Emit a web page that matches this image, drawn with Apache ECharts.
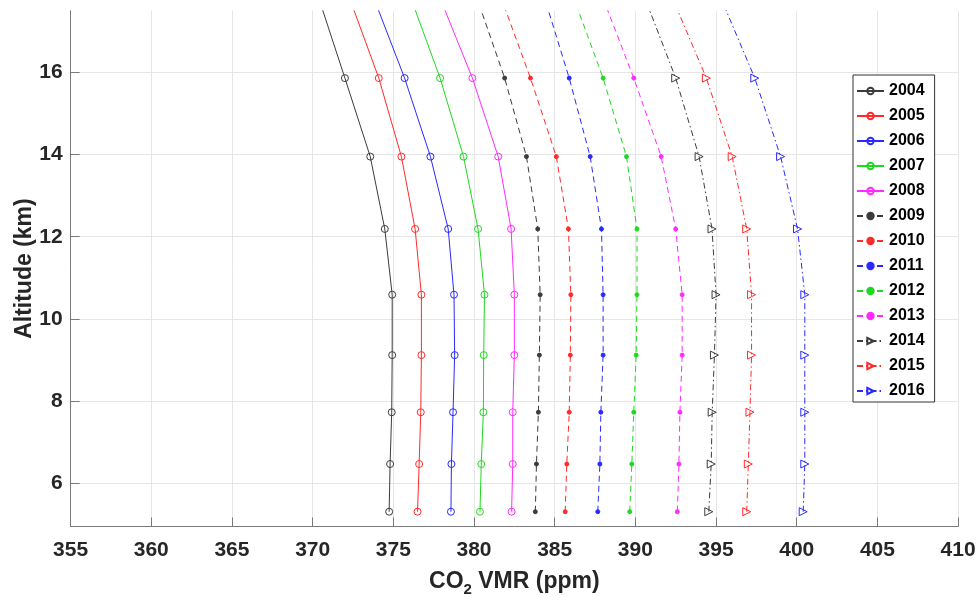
<!DOCTYPE html>
<html>
<head>
<meta charset="utf-8">
<script src="https://cdn.jsdelivr.net/npm/echarts@6/dist/echarts.min.js"></script>
<style>
  html, body { margin: 0; padding: 0; background: #fff; }
  #chart { width: 980px; height: 596px; }
</style>
</head>
<body>
<div id="chart"></div>
<script>
// Retrieval altitude levels (km); the top level lies above the plotted range and is clipped.
const altitudes = [5.31, 6.47, 7.73, 9.12, 10.59, 12.19, 13.95, 15.86, 17.9];

// Annual mean CO2 VMR profiles (ppm), bottom to top.
const years = ['2004', '2005', '2006', '2007', '2008', '2009', '2010',
               '2011', '2012', '2013', '2014', '2015', '2016'];
const co2_2004 = [374.74, 374.80, 374.90, 374.93, 374.93, 374.47, 373.57, 372.00, 370.30];
const co2_2005 = [376.50, 376.60, 376.70, 376.74, 376.74, 376.35, 375.50, 374.10, 372.20];
const co2_2006 = [378.57, 378.60, 378.70, 378.80, 378.76, 378.40, 377.30, 375.70, 373.70];
const co2_2007 = [380.37, 380.45, 380.58, 380.60, 380.65, 380.25, 379.35, 377.90, 376.00];
const co2_2008 = [382.33, 382.40, 382.40, 382.50, 382.50, 382.30, 381.50, 379.90, 377.80];
const co2_2009 = [383.80, 383.87, 383.99, 384.05, 384.10, 383.95, 383.25, 381.90, 380.10];
const co2_2010 = [385.65, 385.75, 385.90, 385.97, 386.00, 385.85, 385.10, 383.50, 381.60];
const co2_2011 = [387.67, 387.80, 387.86, 388.00, 388.00, 387.90, 387.20, 385.90, 384.30];
const co2_2012 = [389.65, 389.78, 389.90, 390.05, 390.10, 390.10, 389.45, 388.00, 386.10];
const co2_2013 = [392.60, 392.70, 392.76, 392.90, 392.90, 392.50, 391.60, 389.90, 387.90];
const co2_2014 = [394.55, 394.70, 394.76, 394.90, 395.00, 394.75, 393.95, 392.50, 390.50];
const co2_2015 = [396.90, 397.00, 397.10, 397.20, 397.20, 396.90, 396.00, 394.40, 392.20];
const co2_2016 = [400.40, 400.50, 400.50, 400.50, 400.50, 400.05, 399.00, 397.40, 395.20];

const profiles = [co2_2004, co2_2005, co2_2006, co2_2007, co2_2008, co2_2009, co2_2010,
                  co2_2011, co2_2012, co2_2013, co2_2014, co2_2015, co2_2016];

// Axis tick values
const xTicks = [355, 360, 365, 370, 375, 380, 385, 390, 395, 400, 405, 410];
const yTicks = [6, 8, 10, 12, 14, 16];

const FONT = '"Liberation Sans", Arial, Helvetica, sans-serif';
const TEXT = '#262626';
const AXIS = '#7a7a7a';
const GRID = '#e6e6e6';

// Colour cycle k, r, b, g, m
const palette = ['#3c3c3c', '#ff2a2a', '#2a2aff', '#1fd81f', '#ff2aff'];

function styleFor(i) {
  const color = palette[i % 5];
  if (i < 5) {
    // solid line, open circle
    return { color, dash: 'solid', symbol: 'circle', size: 7, rotate: 0,
             fill: 'rgba(255,255,255,0)' };
  } else if (i < 10) {
    // dashed line, point marker
    return { color, dash: [6, 4], symbol: 'circle', size: 4, rotate: 0, fill: color };
  }
  // dash-dot line, right-pointing triangle
  return { color, dash: [6, 3, 1.5, 3], symbol: 'triangle', size: 8, rotate: -90,
           fill: 'rgba(255,255,255,0)' };
}

const series = years.map((yr, i) => {
  const s = styleFor(i);
  return {
    name: yr,
    type: 'line',
    data: profiles[i].map((v, k) => [v, altitudes[k]]),
    symbol: s.symbol,
    symbolSize: s.size,
    symbolRotate: s.rotate,
    showSymbol: true,
    showAllSymbol: true,
    clip: true,
    lineStyle: { color: s.color, width: 1, type: s.dash },
    itemStyle: { color: s.fill, borderColor: s.color, borderWidth: 1 },
    emphasis: { disabled: true },
    z: 3
  };
});

const chart = echarts.init(document.getElementById('chart'), null, { renderer: 'canvas' });

chart.setOption({
  animation: false,
  backgroundColor: '#ffffff',
  grid: { left: 70.6, right: 21.9, top: 10.7, bottom: 69.5,
          containLabel: false, outerBoundsMode: 'none' },
  xAxis: {
    type: 'value',
    min: 355,
    max: 410,
    interval: 5,
    name: '{b|CO}{s|2}{b| VMR (ppm)}',
    nameLocation: 'middle',
    nameGap: 44,
    nameMoveOverlap: false,
    nameTextStyle: {
      rich: {
        b: { fontFamily: FONT, fontSize: 23, fontWeight: 'bold', color: TEXT,
             lineHeight: 23, verticalAlign: 'top' },
        s: { fontFamily: FONT, fontSize: 15, fontWeight: 'bold', color: TEXT,
             lineHeight: 15, verticalAlign: 'top', padding: [12, 0, 0, 0] }
      }
    },
    axisLine: { show: true, lineStyle: { color: AXIS, width: 1 } },
    axisTick: { show: true, inside: true, length: 9, lineStyle: { color: AXIS } },
    axisLabel: {
      fontFamily: FONT, fontSize: 21, fontWeight: 'bold', color: TEXT, margin: 13,
      showMinLabel: true, showMaxLabel: true
    },
    splitLine: { show: true, lineStyle: { color: GRID, width: 1 } }
  },
  yAxis: {
    type: 'value',
    min: 4.95,
    max: 17.5,
    name: 'Altitude (km)',
    nameLocation: 'middle',
    nameGap: 34,
    nameMoveOverlap: false,
    nameTextStyle: { fontFamily: FONT, fontSize: 23, fontWeight: 'bold', color: TEXT },
    axisLine: { show: true, lineStyle: { color: AXIS, width: 1 } },
    axisTick: { show: true, inside: true, length: 9, lineStyle: { color: AXIS },
                customValues: yTicks },
    axisLabel: { fontFamily: FONT, fontSize: 21, fontWeight: 'bold', color: TEXT, margin: 8,
                 customValues: yTicks },
    splitLine: { show: true, lineStyle: { color: GRID, width: 1 } }
  },
  legend: {
    data: years,
    orient: 'vertical',
    left: 853,
    top: 75,
    itemWidth: 27,
    itemHeight: 8,
    itemGap: 9,
    padding: [8, 10, 3, 3],
    backgroundColor: '#ffffff',
    borderColor: '#333333',
    borderWidth: 1,
    borderRadius: 0,
    selectedMode: false,
    textStyle: { fontFamily: FONT, fontSize: 16, fontWeight: 'bold', color: '#000000' }
  },
  series: series
});
</script>
</body>
</html>
